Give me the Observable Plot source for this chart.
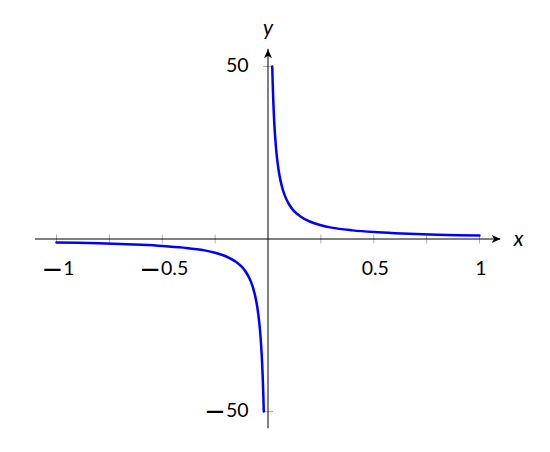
<!DOCTYPE html>
<html>
<head>
<meta charset="utf-8">
<script src="https://cdn.jsdelivr.net/npm/d3@7"></script>
<script src="https://cdn.jsdelivr.net/npm/@observablehq/plot@0.6"></script>
<style>
  html, body { margin: 0; padding: 0; background: white; }
  svg text.lbl { letter-spacing: 2.5px; }
</style>
</head>
<body>
<div id="chart"></div>
<script>
// Curve y = 1/x (two branches)
const posX = [0.02, 0.022, 0.025, 0.03, 0.035, 0.04, 0.05, 0.06, 0.07, 0.08, 0.1, 0.12, 0.15, 0.2, 0.25, 0.3, 0.4, 0.5, 0.6, 0.7, 0.8, 0.9, 1.0];
const posY = [50, 45.5, 40, 33.3, 28.6, 25, 20, 16.7, 14.3, 12.5, 10, 8.3, 6.7, 5, 4, 3.3, 2.5, 2, 1.67, 1.43, 1.25, 1.11, 1];
const negX = [-1.0, -0.9, -0.8, -0.7, -0.6, -0.5, -0.4, -0.3, -0.25, -0.2, -0.15, -0.12, -0.1, -0.08, -0.07, -0.06, -0.05, -0.04, -0.035, -0.03, -0.025, -0.022, -0.02];
const negY = [-1, -1.11, -1.25, -1.43, -1.67, -2, -2.5, -3.3, -4, -5, -6.7, -8.3, -10, -12.5, -14.3, -16.7, -20, -25, -28.6, -33.3, -40, -45.5, -50];

// Axis ticks and labels
const xTicks = [-1, -0.75, -0.5, -0.25, 0.25, 0.5, 0.75, 1];
const xTickLabels = [-1, -0.5, 0.5, 1];
const yTicks = [-50, 50];
const yTickLabels = [-50, 50];
const xExtent = [-1.1, 1.1];
const yExtent = [-55, 55];

const fmt = v => (v < 0 ? "\u2212" + String(-v) : String(v));

const posData = posX.map((x, i) => ({x, y: posY[i]}));
const negData = negX.map((x, i) => ({x, y: negY[i]}));

const vTick = { draw(ctx) { ctx.moveTo(0, -4.5); ctx.lineTo(0, 4.5); } };
const hTick = { draw(ctx) { ctx.moveTo(-5, 0); ctx.lineTo(5, 0); } };
const arrowRight = { draw(ctx) { ctx.moveTo(0, 0); ctx.lineTo(-9, -4); ctx.lineTo(-6.5, 0); ctx.lineTo(-9, 4); ctx.closePath(); } };
const arrowUp = { draw(ctx) { ctx.moveTo(0, 0); ctx.lineTo(-4, 9); ctx.lineTo(0, 6.5); ctx.lineTo(4, 9); ctx.closePath(); } };

const font = "Lato, 'Open Sans', sans-serif";

const chart = Plot.plot({
  width: 550,
  height: 452,
  marginLeft: 56,
  marginRight: 71,
  marginTop: 66,
  marginBottom: 41,
  style: { background: "white", fontFamily: font, fontSize: "19.5px", color: "black" },
  x: { domain: [-1, 1], axis: null },
  y: { domain: [-50, 50], axis: null },
  marks: [
    Plot.dot(xTicks, { x: d => d, y: () => 0, symbol: vTick, stroke: "#b0b0b0", strokeWidth: 1, fill: "none" }),
    Plot.dot(yTicks, { x: () => 0, y: d => d, symbol: hTick, stroke: "#b0b0b0", strokeWidth: 1, fill: "none" }),
    Plot.ruleY([0], { x1: xExtent[0], x2: xExtent[1], stroke: "black", strokeWidth: 1 }),
    Plot.ruleX([0], { y1: yExtent[0], y2: yExtent[1], stroke: "black", strokeWidth: 1 }),
    Plot.dot([xExtent[1]], { x: d => d, y: () => 0, symbol: arrowRight, fill: "black", stroke: "none" }),
    Plot.dot([yExtent[1]], { x: () => 0, y: d => d, symbol: arrowUp, fill: "black", stroke: "none" }),
    Plot.line(posData, { x: "x", y: "y", stroke: "#0000ff", strokeWidth: 2.5, curve: "monotone-x" }),
    Plot.line(negData, { x: "x", y: "y", stroke: "#0000ff", strokeWidth: 2.5, curve: "monotone-x" }),
    Plot.text(xTickLabels, { x: d => d, y: () => 0, text: fmt, dy: 30, dx: 1.5, fill: "black", fontSize: 19.5, className: "lbl" }),
    Plot.text(yTickLabels, { x: () => 0, y: d => d, text: fmt, dx: -19.5, dy: -1, textAnchor: "end", fill: "black", fontSize: 19.5, className: "lbl" }),
    Plot.text(["x"], { x: () => xExtent[1], y: () => 0, text: d => d, dx: 18, fontStyle: "italic", fill: "black", fontSize: 21 }),
    Plot.text(["y"], { x: () => 0, y: () => yExtent[1], text: d => d, dy: -21, fontStyle: "italic", fill: "black", fontSize: 21 })
  ]
});

// Render the leading minus sign with a wider glyph, like the reference
d3.select(chart).selectAll("text").each(function() {
  const t = this.textContent;
  if (t && t.startsWith("\u2212")) {
    const sel = d3.select(this);
    sel.text(null);
    sel.append("tspan")
      .attr("font-family", "'DejaVu Sans'")
      .attr("font-size", 26)
      .attr("baseline-shift", -2.5)
      .text("\u2212");
    sel.append("tspan").text(t.slice(1));
  }
});

document.getElementById("chart").appendChild(chart);
</script>
</body>
</html>
